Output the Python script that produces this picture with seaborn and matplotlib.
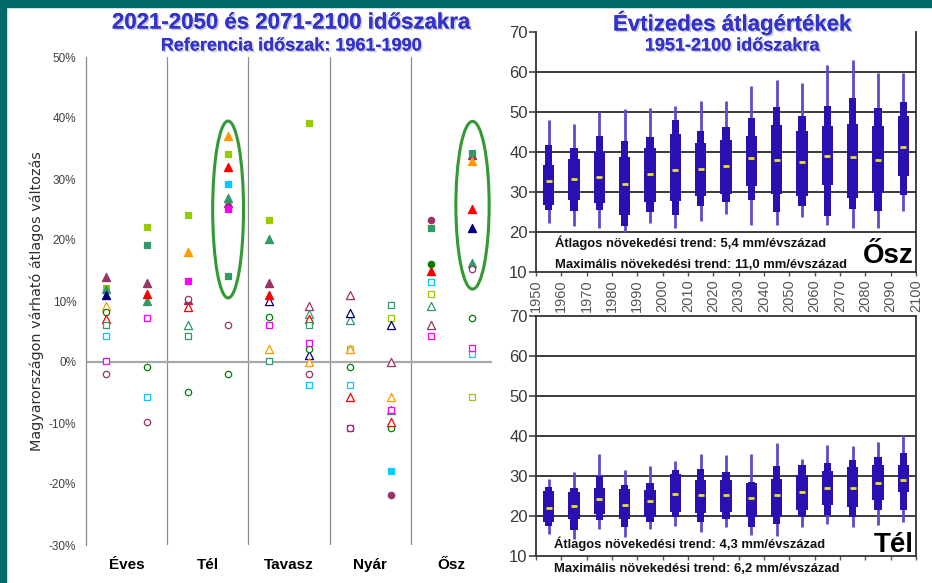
import matplotlib
matplotlib.use("Agg")
import matplotlib.pyplot as plt
import matplotlib.patheffects as pe
from matplotlib.patches import Ellipse, Rectangle
from matplotlib import font_manager
import numpy as np
import pandas as pd
import seaborn as sns

#################
### LEFT DATA ###
#################

SEASONS = ["Éves", "Tél", "Tavasz", "Nyár", "Ősz"]

# one entry per model: marker shape and colour
MODEL_MARKERS = ["^", "s", "^", "^", "^", "o", "^", "s", "s", "s", "o"]
MODEL_COLORS = ["#993366", "#99cc00", "#339966", "#000080", "#ff9900", "#008000",
                "#ff0000", "#339966", "#00ccff", "#ff00ff", "#993366"]

N = np.nan
# 2021-2050 change in %, rows = models, columns = seasons
NEAR = [
    [14.0, 10.1, 13.0, 11.0, 6.0],
    [12.2, 24.1, 23.2, 2.2, 11.1],
    [12.0, 6.0, 20.1, 6.9, 9.1],
    [11.0, N, 10.0, 8.0, N],
    [9.2, 18.1, 2.1, 2.2, N],
    [8.2, -4.9, 7.3, -0.8, 16.1],
    [7.0, 9.0, 11.0, -5.8, 15.0],
    [6.1, 4.3, 0.2, N, 22.0],
    [4.3, N, N, -3.8, 13.1],
    [0.2, 13.2, 6.1, -10.8, 4.2],
    [-1.9, 10.3, N, -10.8, 23.2],
]
NEAR_FILLED = [
    [1, 1, 1, 0, 0],
    [1, 1, 1, 0, 0],
    [1, 0, 1, 0, 0],
    [1, 0, 0, 0, 0],
    [0, 1, 0, 0, 0],
    [0, 0, 0, 0, 1],
    [0, 0, 1, 0, 1],
    [0, 0, 0, 0, 1],
    [0, 0, 0, 0, 0],
    [0, 1, 0, 0, 0],
    [0, 0, 0, 0, 1],
]
# 2071-2100 change in %
FAR = [
    [13.0, 26.1, 9.2, 0.0, 34.0],
    [22.1, 34.1, 39.1, 7.2, -5.7],
    [10.0, 26.9, 7.9, -7.8, 16.2],
    [N, N, 1.1, 6.0, 22.0],
    [N, 37.0, 0.0, -5.8, 33.0],
    [-0.8, -1.9, 2.2, -10.8, 7.2],
    [11.1, 32.0, 7.0, -9.8, 25.1],
    [19.1, 14.1, 6.1, 9.3, 34.3],
    [-5.7, 29.1, -3.8, -17.9, 1.3],
    [7.2, 25.1, 3.1, -7.8, 2.3],
    [-9.8, 6.1, -1.9, -21.8, 15.2],
]
FAR_FILLED = [
    [1, 1, 0, 0, 1],
    [1, 1, 1, 0, 0],
    [1, 1, 0, 0, 1],
    [0, 0, 0, 0, 1],
    [0, 1, 0, 0, 1],
    [0, 0, 0, 0, 0],
    [1, 1, 0, 0, 1],
    [1, 1, 0, 0, 1],
    [0, 1, 0, 1, 0],
    [0, 1, 0, 0, 0],
    [0, 0, 0, 1, 0],
]

##################
### RIGHT DATA ###
##################

DECADES = [1955, 1965, 1975, 1985, 1995, 2005, 2015, 2025, 2035, 2045,
           2055, 2065, 2075, 2085, 2095]
YEAR_TICKS = [1950, 1960, 1970, 1980, 1990, 2000, 2010, 2020, 2030, 2040,
              2050, 2060, 2070, 2080, 2090, 2100]

OSZ_MAX = [48.1, 47.1, 49.9, 50.8, 51.0, 51.4, 52.7, 52.8, 56.4, 58.1, 57.3, 61.8, 63.0, 59.8, 59.8]
OSZ_P90 = [41.8, 41.0, 44.1, 42.7, 43.8, 48.1, 45.2, 46.3, 48.5, 51.3, 49.1, 51.6, 53.5, 51.0, 52.4]
OSZ_P75 = [36.8, 38.3, 40.0, 38.8, 41.0, 44.6, 42.3, 43.1, 43.9, 46.8, 45.3, 46.4, 47.1, 46.6, 49.1]
OSZ_MED = [32.8, 33.3, 33.8, 32.0, 34.6, 35.6, 35.8, 36.6, 38.5, 37.9, 37.5, 38.9, 38.8, 37.9, 41.2]
OSZ_P25 = [26.7, 27.9, 27.3, 24.3, 27.4, 27.7, 29.1, 29.6, 31.4, 29.5, 28.9, 31.8, 28.5, 29.8, 33.9]
OSZ_P10 = [25.4, 25.2, 25.4, 21.4, 24.9, 24.3, 26.6, 27.4, 28.1, 24.9, 26.6, 24.1, 25.8, 25.2, 29.3]
OSZ_MIN = [22.3, 21.4, 21.0, 19.9, 22.3, 21.0, 22.7, 24.6, 21.8, 21.8, 23.8, 21.8, 21.0, 21.0, 25.2]

TEL_MAX = [29.3, 31.0, 35.6, 31.4, 32.4, 33.8, 35.6, 35.2, 35.6, 38.3, 34.3, 37.7, 37.4, 38.5, 40.2]
TEL_P90 = [27.3, 27.0, 29.9, 27.7, 28.3, 31.6, 31.8, 31.0, 28.5, 32.4, 32.8, 33.3, 34.1, 34.8, 35.8]
TEL_P75 = [26.2, 26.0, 27.0, 26.7, 26.4, 30.4, 29.1, 28.9, 28.3, 29.2, 30.2, 31.3, 32.3, 32.7, 32.7]
TEL_MED = [22.1, 22.5, 24.3, 22.7, 23.8, 25.6, 25.2, 25.2, 24.5, 25.2, 26.0, 27.1, 27.1, 28.3, 28.9]
TEL_P25 = [18.5, 19.3, 20.6, 19.2, 19.8, 21.0, 20.8, 21.0, 19.8, 19.8, 21.6, 22.7, 22.3, 23.9, 26.0]
TEL_P10 = [17.4, 16.6, 18.9, 17.3, 18.5, 19.8, 18.5, 19.3, 17.3, 18.1, 19.8, 20.2, 19.8, 21.4, 21.6]
TEL_MIN = [15.6, 14.3, 16.8, 14.8, 16.8, 17.4, 16.0, 17.3, 15.2, 14.9, 17.3, 17.9, 17.3, 17.7, 18.5]

TITLE_BLUE = "#3333cc"
TEAL = "#006a68"
BOX_BLUE = "#2a10b0"

sns.set_theme(style="white")
plt.rcParams['font.family'] = ['Liberation Sans', 'DejaVu Sans']

names = {f.name for f in font_manager.fontManager.ttflist}
NARROW = 'Liberation Sans Narrow' in names
NARROW_FAM = ['Liberation Sans Narrow', 'Liberation Sans'] if NARROW else ['Liberation Sans']
TREND_SIZE = 11.5 if NARROW else 9.4
SEASON_SIZE = 13 if NARROW else 11

fig = plt.figure(figsize=(9.32, 5.83), dpi=100)
fig.patch.set_facecolor("white")
fig.patches.append(Rectangle((0, 0), 6 / 932, 1, transform=fig.transFigure,
                             color=TEAL, zorder=0))
fig.patches.append(Rectangle((0, 1 - 7 / 583), 1, 7 / 583, transform=fig.transFigure,
                             color=TEAL, zorder=0))

shadow = [pe.withSimplePatchShadow(offset=(1.2, -1.2), shadow_rgbFace="#8888aa", alpha=0.45),
          pe.Normal()]

##################
### LEFT PANEL ###
##################

ax = fig.add_axes([86 / 932, 38 / 583, 406 / 932, 488 / 583])
ax.set_xlim(-0.5, 4.5)
ax.set_ylim(-30, 50)
for side in ["top", "right", "bottom"]:
    ax.spines[side].set_visible(False)
ax.spines["left"].set_color("#8c8c8c")
ax.spines["left"].set_linewidth(0.9)
for x in [0.5, 1.5, 2.5, 3.5]:
    ax.axvline(x, color="#8c8c8c", lw=0.9, zorder=1)
ax.axhline(0, color="#a8a8a8", lw=1.6, zorder=1)

yt = list(range(-30, 51, 10))
ax.set_yticks(yt)
ax.set_yticklabels([f"{v}%" for v in yt])
ax.tick_params(axis="y", length=0, pad=7, labelsize=8.5, labelcolor="#404040")
ax.set_xticks([])

rows = []
for m in range(len(MODEL_MARKERS)):
    for s in range(len(SEASONS)):
        for vals, fills, off in [(NEAR, NEAR_FILLED, -0.25), (FAR, FAR_FILLED, 0.25)]:
            if not np.isnan(vals[m][s]):
                rows.append({"model": m, "pos": s + off, "val": vals[m][s],
                             "filled": fills[m][s]})
df = pd.DataFrame(rows)

SIZES = {"^": 34, "s": 24, "o": 21}
for (m, filled), sub in df.groupby(["model", "filled"]):
    col = MODEL_COLORS[m]
    mk = MODEL_MARKERS[m]
    sns.scatterplot(data=sub, x="pos", y="val", ax=ax, marker=mk, color=col,
                    facecolor=col if filled else "white", edgecolor=col,
                    linewidth=0.9, s=SIZES[mk], legend=False, zorder=3)
ax.set_xlabel("")
ax.set_ylabel("")

ax.add_patch(Ellipse((1.25, 25.0), 0.38, 29.0, fill=False, ec="#339933", lw=2.2, zorder=4))
ax.add_patch(Ellipse((4.26, 25.7), 0.41, 27.5, fill=False, ec="#339933", lw=2.2, zorder=4))

for i, name in enumerate(SEASONS):
    ax.text(i, -0.041, name, transform=ax.get_xaxis_transform(), ha="center", va="center",
            fontsize=SEASON_SIZE, fontweight="bold", family=NARROW_FAM, color="black")

fig.text(37 / 932, 1 - 301 / 583, "Magyarországon várható átlagos változás", rotation=90,
         ha="center", va="center", fontsize=10.4, family=["DejaVu Sans"], color="#303030")

fig.text(291 / 932, 1 - 23 / 583, "2021-2050 és 2071-2100 időszakra", ha="center", va="center",
         fontsize=16, fontweight="bold", color=TITLE_BLUE, path_effects=shadow)
fig.text(291 / 932, 1 - 46 / 583, "Referencia időszak: 1961-1990", ha="center", va="center",
         fontsize=13, fontweight="bold", color=TITLE_BLUE, path_effects=shadow)

####################
### RIGHT PANELS ###
####################

fig.text(732 / 932, 1 - 23 / 583, "Évtizedes átlagértékek", ha="center", va="center",
         fontsize=16, fontweight="bold", color=TITLE_BLUE, path_effects=shadow)
fig.text(732 / 932, 1 - 46 / 583, "1951-2100 időszakra", ha="center", va="center",
         fontsize=13, fontweight="bold", color=TITLE_BLUE, path_effects=shadow)


def box_panel(ax, vmin, p10, p25, med, p75, p90, vmax):
    d = np.array(DECADES)
    ax.set_xlim(1950, 2100)
    ax.set_ylim(10, 70)
    for g in [20, 30, 40, 50, 60]:
        ax.axhline(g, color="#1a1a1a", lw=1.2, zorder=1)
    ax.vlines(d, vmin, vmax, color="#5a4ccc", lw=2.0, zorder=2)
    ax.bar(d, np.array(p90) - np.array(p10), bottom=p10, width=3.0, color=BOX_BLUE,
           linewidth=0, zorder=3)
    ax.bar(d, np.array(p75) - np.array(p25), bottom=p25, width=4.5, color=BOX_BLUE,
           linewidth=0, zorder=3)
    ax.hlines(med, d - 1.2, d + 1.2, color="#e8e030", lw=2.0, zorder=4)
    ax.set_yticks([10, 20, 30, 40, 50, 60, 70])
    ax.set_xticks(YEAR_TICKS)
    ax.tick_params(axis="y", length=5, width=1.1, color="#333333", pad=1,
                   labelsize=12, labelcolor="#3a3a3a", left=True)
    for side in ["left", "bottom", "right", "top"]:
        ax.spines[side].set_color("#333333")
        ax.spines[side].set_linewidth(1.3)


axo = fig.add_axes([536 / 932, 311 / 583, 380 / 932, 240 / 583])
box_panel(axo, OSZ_MIN, OSZ_P10, OSZ_P25, OSZ_MED, OSZ_P75, OSZ_P90, OSZ_MAX)
axo.spines["top"].set_visible(False)
axo.set_xticklabels([str(y) for y in YEAR_TICKS], rotation=90)
axo.tick_params(axis="x", length=3, width=1, color="#555555", pad=2,
                labelsize=10.5, labelcolor="#555555", bottom=True)
axo.text(1957.5, 17.4, "Átlagos növekedési trend: 5,4 mm/évszázad", ha="left", va="center",
         fontsize=TREND_SIZE, fontweight="bold", family=NARROW_FAM, color="#111111", zorder=5)
axo.text(1957.5, 11.8, "Maximális növekedési trend: 11,0 mm/évszázad", ha="left", va="center",
         fontsize=TREND_SIZE, fontweight="bold", family=NARROW_FAM, color="#111111", zorder=5)
axo.text(2099, 14.0, "Ősz", ha="right", va="center", fontsize=20, fontweight="bold",
         color="black", zorder=5)

axt = fig.add_axes([536 / 932, 27 / 583, 380 / 932, 240 / 583])
box_panel(axt, TEL_MIN, TEL_P10, TEL_P25, TEL_MED, TEL_P75, TEL_P90, TEL_MAX)
axt.tick_params(axis="x", length=3, width=1, color="#555555", labelbottom=False, bottom=True)
axt.text(1957, 13.0, "Átlagos növekedési trend: 4,3 mm/évszázad", ha="left", va="center",
         fontsize=TREND_SIZE, fontweight="bold", family=NARROW_FAM, color="#111111", zorder=5)
axt.text(1957, 6.75, "Maximális növekedési trend: 6,2 mm/évszázad", ha="left", va="center",
         fontsize=TREND_SIZE, fontweight="bold", family=NARROW_FAM, color="#111111",
         zorder=5, clip_on=False)
axt.text(2099, 12.8, "Tél", ha="right", va="center", fontsize=20, fontweight="bold",
         color="black", zorder=5)

fig.savefig("out.png", dpi=100)
